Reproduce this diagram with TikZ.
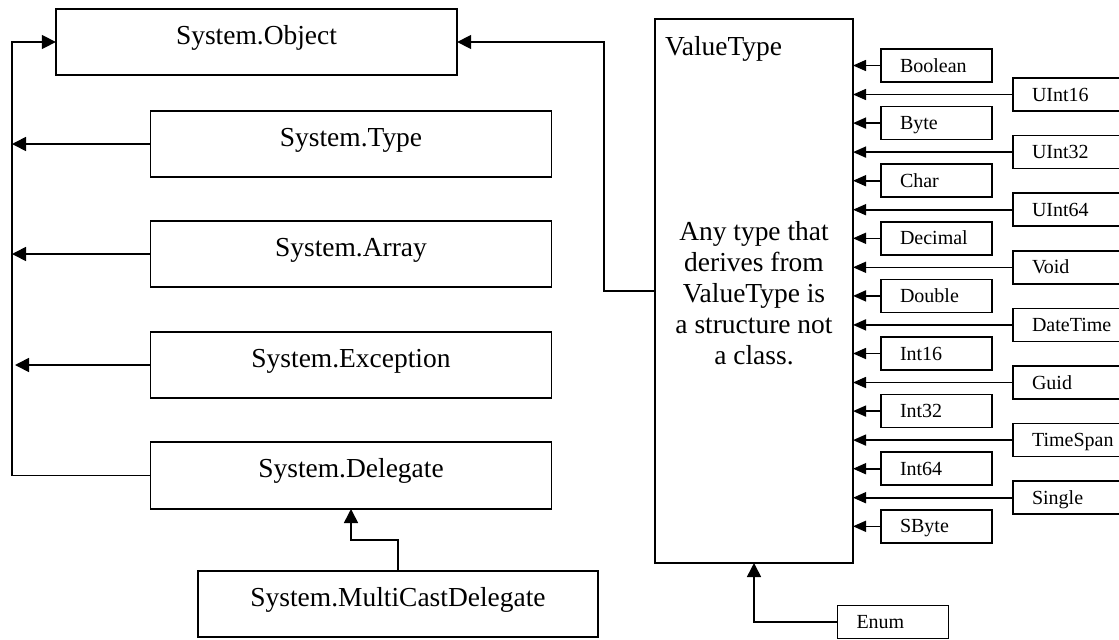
\documentclass[tikz,border=0pt]{standalone}
\usepackage{fontspec}
\setmainfont{Liberation Serif}
\usetikzlibrary{arrows.meta}
\begin{document}
\begin{tikzpicture}[x=0.75pt,y=-0.75pt,
  every node/.style={inner sep=0pt, outer sep=0pt},
  wire/.style={line width=1.2pt, black},
  bigarrow/.style={wire, -{Triangle[length=10.5pt,width=10.5pt]}},
  smallarrow/.style={wire, -{Triangle[length=9.75pt,width=8.25pt]}},
  classbox/.style={draw, line width=1.2pt, minimum width=301pt, minimum height=49.5pt,
    text height=13.6pt, text depth=10.5pt, font=\fontsize{20.6}{24.7}\selectfont},
  typebox/.style={draw, line width=1.2pt, minimum height=24.75pt, inner xsep=14.25pt,
    text width=54.75pt, align=left, text height=9.9pt, text depth=0pt,
    font=\fontsize{15}{18}\selectfont},
  widetypebox/.style={typebox, text width=63pt},
  bigtext/.style={font=\fontsize{20.6}{23.25}\selectfont}
]
\useasboundingbox (0,0) rectangle (1119,639);
\clip (0,0) rectangle (1119,639);

% reference types on the left
\node[classbox] (obj) at (256.5,42) {System.Object};
\node[classbox] (typ) at (351,144) {System.Type};
\node[classbox] (arr) at (351,254) {System.Array};
\node[classbox] (exc) at (351,365) {System.Exception};
\node[classbox, minimum height=50.25pt] (del) at (351,475.5) {System.Delegate};
\node[classbox, minimum width=300pt] (mcd) at (398,604) {System.MultiCastDelegate};

% inheritance spine on the far left
\coordinate (spine) at (12,42);
\draw[bigarrow] (del.west) -| (spine) -- (obj.west);
\draw[bigarrow] (typ.west) -- (typ.west -| spine);
\draw[bigarrow] (arr.west) -- (arr.west -| spine);
\draw[bigarrow] (exc.west) -- ([xshift=2.25pt]exc.west -| spine);
\draw[bigarrow] (mcd.north) -- ++(0,-31) -| (del.south);

% value types
\node[draw, line width=1.2pt, minimum width=148.5pt, minimum height=408pt] (vt) at (754,291) {};
\node[bigtext, anchor=base west] (vttitle) at (665,55) {ValueType};
\node[bigtext, anchor=base, align=center] (vtbody) at (754,364)
  {Any type that\\derives from\\ValueType is\\a structure not\\a class.};
\draw[bigarrow] (vt.west) -- ++(-51,0) |- (obj.east);

% value type members, inner column
\foreach \name/\label [count=\i from 0] in
  {boolean/Boolean, byte/Byte, char/Char, decimal/Decimal, double/Double,
   int16/Int16, int32/Int32, int64/Int64, sbyte/SByte} {
  \node[typebox] (\name) at (936.5,65.5+57.6*\i) {\label};
  \draw[smallarrow] (\name.west) -- (\name.west -| vt.east);
}

% value type members, outer column
\foreach \name/\label [count=\i from 0] in
  {uint16/UInt16, uint32/UInt32, uint64/UInt64, void/Void, datetime/DateTime,
   guid/Guid, timespan/TimeSpan, single/Single} {
  \node[widetypebox] (\name) at (1074,94.5+57.6*\i) {\label};
  \draw[smallarrow] (\name.west) -- (\name.west -| vt.east);
}

% enum
\node[typebox] (enum) at (893,622) {Enum};
\draw[bigarrow] (enum.west) -| (vt.south);
\end{tikzpicture}
\end{document}
